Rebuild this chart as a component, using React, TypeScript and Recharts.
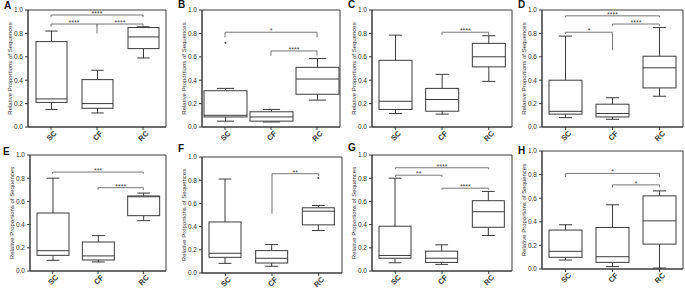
import { ComposedChart, Bar, XAxis, YAxis, ReferenceLine, ReferenceArea } from "recharts";

const groups = ["SC", "CF", "RC"];
const yTicks = [0, 0.2, 0.4, 0.6, 0.8, 1.0];
const yLabel = "Relative Proportions of Sequences";

// [min, q1, median, q3, max] for SC, CF, RC
const statsA = [[0.15, 0.21, 0.24, 0.73, 0.82], [0.12, 0.16, 0.2, 0.405, 0.485], [0.59, 0.67, 0.77, 0.85, 0.857]];
const statsB = [[0.05, 0.086, 0.1, 0.31, 0.33], [0.043, 0.05, 0.086, 0.13, 0.15], [0.23, 0.28, 0.41, 0.51, 0.585]];
const statsC = [[0.115, 0.15, 0.22, 0.57, 0.785], [0.11, 0.135, 0.235, 0.33, 0.45], [0.39, 0.514, 0.6, 0.715, 0.78]];
const statsD = [[0.08, 0.11, 0.134, 0.4, 0.777], [0.066, 0.086, 0.115, 0.195, 0.25], [0.263, 0.334, 0.506, 0.605, 0.85]];
const statsE = [[0.092, 0.135, 0.175, 0.5, 0.8], [0.078, 0.095, 0.13, 0.25, 0.305], [0.434, 0.477, 0.64, 0.647, 0.672]];
const statsF = [[0.083, 0.135, 0.17, 0.44, 0.81], [0.058, 0.086, 0.127, 0.193, 0.245], [0.366, 0.415, 0.533, 0.562, 0.582]];
const statsG = [[0.071, 0.11, 0.134, 0.386, 0.8], [0.057, 0.074, 0.11, 0.171, 0.226], [0.306, 0.377, 0.511, 0.606, 0.686]];
const statsH = [[0.076, 0.099, 0.15, 0.33, 0.375], [0.02, 0.056, 0.104, 0.352, 0.544], [0.008, 0.211, 0.408, 0.62, 0.662]];

// outlier values per group
const noOutliers = [[], [], []];
const outliersB = [[0.72], [], []];
const outliersF = [[], [], [0.818]];

// significance brackets: from, to, line level, left drop end, right drop end, stars
const bracketsA = [
  ["SC", "RC", 0.957, 0.94, 0.94, "****"],
  ["SC", "CF", 0.88, 0.857, 0.8, "****"],
  ["CF", "RC", 0.88, 0.86, 0.86, "****"],
];
const bracketsB = [
  ["SC", "RC", 0.81, 0.765, 0.765, "*"],
  ["CF", "RC", 0.65, 0.61, 0.61, "****"],
];
const bracketsC = [["CF", "RC", 0.81, 0.785, 0.785, "****"]];
const bracketsD = [
  ["SC", "RC", 0.95, 0.937, 0.937, "****"],
  ["CF", "RC", 0.88, 0.863, 0.863, "****"],
  ["SC", "CF", 0.81, 0.795, 0.657, "*"],
];
const bracketsE = [
  ["SC", "RC", 0.853, 0.84, 0.84, "***"],
  ["CF", "RC", 0.718, 0.7, 0.7, "****"],
];
const bracketsF = [["CF", "RC", 0.856, 0.51, 0.836, "**"]];
const bracketsG = [
  ["SC", "RC", 0.89, 0.877, 0.877, "****"],
  ["SC", "CF", 0.826, 0.811, 0.811, "**"],
  ["CF", "RC", 0.714, 0.7, 0.7, "****"],
];
const bracketsH = [
  ["SC", "RC", 0.81, 0.78, 0.78, "*"],
  ["CF", "RC", 0.713, 0.69, 0.69, "*"],
];

const INK = "#3a3a3a";
const FONT = "Liberation Sans, Arial, sans-serif";

const BoxShape = (props: any) => {
  const { x, y, width, height, payload } = props;
  const [lo, q1, med, q3, hi] = payload.stats;
  const top = Math.min(y, y + height);
  const h = Math.abs(height);
  const py = (v: number) => top + (h * (hi - v)) / (hi - lo);
  const cx = x + width / 2;
  const cap = width * 0.2;
  return (
    <g stroke={INK} strokeWidth={1} fill="none">
      <line x1={cx} x2={cx} y1={py(hi)} y2={py(q3)} />
      <line x1={cx} x2={cx} y1={py(q1)} y2={py(lo)} />
      <line x1={cx - cap} x2={cx + cap} y1={py(hi)} y2={py(hi)} />
      <line x1={cx - cap} x2={cx + cap} y1={py(lo)} y2={py(lo)} />
      <rect x={x} y={py(q3)} width={width} height={py(q1) - py(q3)} fill="#fff" />
      <line x1={x} x2={x + width} y1={py(med)} y2={py(med)} />
      {payload.outliers.map((v: number, i: number) => (
        <circle key={i} cx={cx} cy={py(v)} r={1} fill={INK} stroke="none" />
      ))}
    </g>
  );
};

const SlantTick = ({ x, y, payload }: any) => (
  <text
    transform={`translate(${x + 6},${y + 2}) rotate(-45)`}
    textAnchor="end"
    fontSize={7.5}
    fontWeight="bold"
    fill="#333"
    fontFamily={FONT}
  >
    {payload.value}
  </text>
);

function Panel({ letter, stats, outliers, brackets, left, top, plotW, marginTop, plotH, boxW, letterX, letterY }: any) {
  const rows = groups.map((g, i) => ({ group: g, range: [stats[i][0], stats[i][4]], stats: stats[i], outliers: outliers[i] }));
  const lines: any[] = [];
  brackets.forEach((b: any, i: number) => {
    const [from, to, level, endA, endB, stars] = b;
    lines.push(
      <ReferenceLine
        key={`h${i}`}
        segment={[{ x: from, y: level }, { x: to, y: level }]}
        stroke="#777"
        label={{ value: stars, position: "top", offset: -1, fontSize: 7, fill: "#444", fontFamily: FONT }}
      />
    );
    lines.push(<ReferenceLine key={`a${i}`} segment={[{ x: from, y: level }, { x: from, y: endA }]} stroke="#777" />);
    lines.push(<ReferenceLine key={`b${i}`} segment={[{ x: to, y: level }, { x: to, y: endB }]} stroke="#777" />);
  });
  return (
    <div style={{ position: "absolute", left, top }}>
      <div
        style={{
          position: "absolute",
          left: letterX - left,
          top: letterY - top - 6,
          fontFamily: FONT,
          fontWeight: "bold",
          fontSize: 10,
          lineHeight: "12px",
          color: "#111",
        }}
      >
        {letter}
      </div>
      <ComposedChart
        width={28 + plotW + 2}
        height={marginTop + plotH + 17}
        data={rows}
        margin={{ top: marginTop, right: 2, bottom: 0, left: 0 }}
      >
        <ReferenceArea y1={0} y2={1} fill="none" stroke={INK} strokeWidth={1} ifOverflow="visible" />
        <XAxis dataKey="group" height={17} tickSize={3} stroke={INK} interval={0} tick={<SlantTick />} />
        <YAxis
          width={28}
          domain={[0, 1]}
          ticks={yTicks}
          tickSize={3}
          stroke={INK}
          tickFormatter={(v: number) => v.toFixed(1)}
          tick={{ fontSize: 6.5, fill: "#333", fontFamily: FONT }}
          label={{
            value: yLabel,
            angle: -90,
            position: "insideLeft",
            offset: 10,
            fontSize: 6,
            fill: "#333",
            fontFamily: FONT,
            style: { textAnchor: "middle" },
          }}
        />
        <Bar dataKey="range" barSize={boxW} isAnimationActive={false} shape={BoxShape} />
        {lines}
      </ComposedChart>
    </div>
  );
}

const panels = [
  { letter: "A", stats: statsA, outliers: noOutliers, brackets: bracketsA, left: 0, top: 0, plotW: 138, marginTop: 10, plotH: 117, boxW: 31, letterX: 4, letterY: 6 },
  { letter: "B", stats: statsB, outliers: outliersB, brackets: bracketsB, left: 174, top: 0, plotW: 138, marginTop: 10, plotH: 117, boxW: 43, letterX: 178, letterY: 5 },
  { letter: "C", stats: statsC, outliers: noOutliers, brackets: bracketsC, left: 344, top: 0, plotW: 140, marginTop: 10, plotH: 117, boxW: 33, letterX: 348, letterY: 5 },
  { letter: "D", stats: statsD, outliers: noOutliers, brackets: bracketsD, left: 514, top: 0, plotW: 141, marginTop: 10, plotH: 117, boxW: 33, letterX: 518, letterY: 5 },
  { letter: "E", stats: statsE, outliers: noOutliers, brackets: bracketsE, left: 2, top: 144, plotW: 136, marginTop: 11, plotH: 116, boxW: 32, letterX: 3, letterY: 152 },
  { letter: "F", stats: statsF, outliers: outliersF, brackets: bracketsF, left: 174, top: 144, plotW: 140, marginTop: 13, plotH: 116, boxW: 32, letterX: 178, letterY: 149 },
  { letter: "G", stats: statsG, outliers: noOutliers, brackets: bracketsG, left: 344, top: 144, plotW: 140, marginTop: 11, plotH: 116, boxW: 32, letterX: 348, letterY: 148 },
  { letter: "H", stats: statsH, outliers: noOutliers, brackets: bracketsH, left: 514, top: 144, plotW: 141, marginTop: 7, plotH: 118, boxW: 33, letterX: 518, letterY: 151 },
];

export default function App() {
  return (
    <div style={{ position: "absolute", left: 0, top: 0, width: 685, height: 289, background: "#fff", overflow: "hidden" }}>
      {panels.map((p) => (
        <Panel key={p.letter} {...p} />
      ))}
    </div>
  );
}
